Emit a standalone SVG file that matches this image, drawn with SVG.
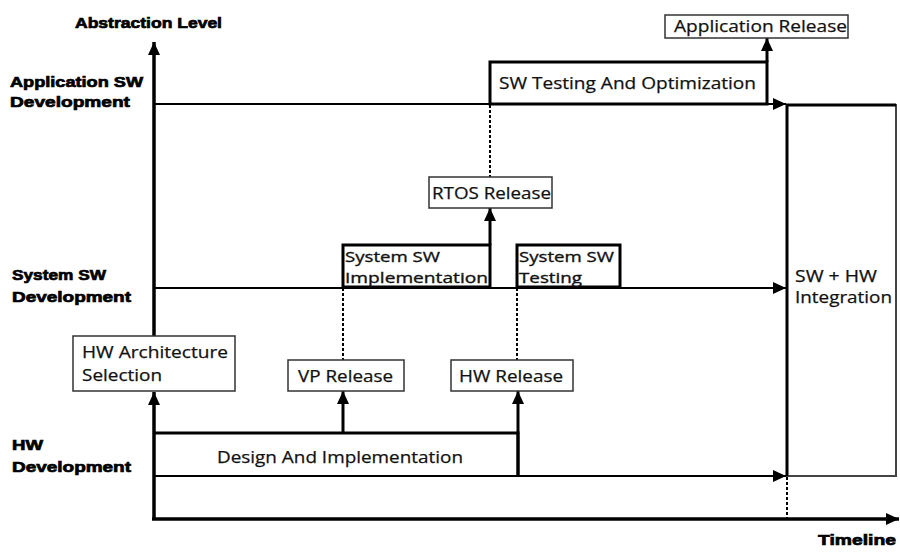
<svg xmlns="http://www.w3.org/2000/svg" width="900" height="552" viewBox="0 0 900 552">
<defs>
<style>
.lbl{font-family:"Liberation Sans",Arial,sans-serif;font-weight:bold;font-size:15px;fill:#000;stroke:#000;stroke-width:0.7}
.txt{font-family:"Open Sans","Liberation Sans",Arial,sans-serif;font-size:17px;fill:#111;stroke:#111;stroke-width:0.25}
.tight{font-size:15px;stroke-width:0.35}
.thin{fill:#fff;stroke:#333;stroke-width:1.5}
.thick{fill:#fff;stroke:#000;stroke-width:3}
.axis{stroke:#000;stroke-width:3.5;fill:none}
.lane{stroke:#000;stroke-width:1.8;fill:none}
.dash{stroke:#000;stroke-width:2;stroke-dasharray:3,2;fill:none}
.arr{stroke:#000;stroke-width:3;fill:none}
</style>
<marker id="ah" markerUnits="userSpaceOnUse" markerWidth="14" markerHeight="14" viewBox="0 0 14 14" refX="13" refY="7" orient="auto">
<path d="M0,1 L13,7 L0,13 z" fill="#000"/>
</marker>
</defs>
<rect width="900" height="552" fill="#fff"/>

<g id="labels">
<text class="lbl" x="75" y="28" textLength="147" lengthAdjust="spacingAndGlyphs">Abstraction Level</text>
<text class="lbl" x="10" y="87" textLength="133" lengthAdjust="spacingAndGlyphs">Application SW</text>
<text class="lbl" x="10" y="107" textLength="120" lengthAdjust="spacingAndGlyphs">Development</text>
<text class="lbl" x="12" y="280" textLength="94" lengthAdjust="spacingAndGlyphs">System SW</text>
<text class="lbl" x="12" y="302" textLength="119" lengthAdjust="spacingAndGlyphs">Development</text>
<text class="lbl" x="12" y="450" textLength="31" lengthAdjust="spacingAndGlyphs">HW</text>
<text class="lbl" x="12" y="472" textLength="119" lengthAdjust="spacingAndGlyphs">Development</text>
<text class="lbl" x="818" y="545" textLength="78" lengthAdjust="spacingAndGlyphs">Timeline</text>
</g>

<g id="connectors">
<line class="axis" x1="154" y1="519" x2="154" y2="392" marker-end="url(#ah)"/>
<line class="axis" x1="154" y1="336" x2="154" y2="42" marker-end="url(#ah)"/>
<line class="axis" x1="152" y1="519" x2="899" y2="519" marker-end="url(#ah)"/>
<line class="lane" x1="154" y1="104" x2="786" y2="104" marker-end="url(#ah)"/>
<line class="lane" x1="154" y1="288" x2="786" y2="288" marker-end="url(#ah)"/>
<line class="lane" x1="154" y1="476" x2="786" y2="476" marker-end="url(#ah)"/>
<line class="arr" x1="767" y1="62" x2="767" y2="38" marker-end="url(#ah)"/>
<line class="arr" x1="490" y1="245" x2="490" y2="208" marker-end="url(#ah)"/>
<line class="arr" x1="343" y1="433" x2="343" y2="391" marker-end="url(#ah)"/>
<line class="arr" x1="518" y1="476" x2="518" y2="391" marker-end="url(#ah)"/>
<line class="dash" x1="490" y1="105" x2="490" y2="177"/>
<line class="dash" x1="343" y1="288" x2="343" y2="360"/>
<line class="dash" x1="517" y1="288" x2="517" y2="360"/>
<line class="dash" x1="787" y1="477" x2="787" y2="518"/>
</g>

<g id="app-release">
<rect class="thin" x="665" y="15" width="183" height="23"/>
<text class="txt" x="674" y="32" textLength="173" lengthAdjust="spacingAndGlyphs">Application Release</text>
</g>

<g id="sw-testing">
<rect class="thick" x="490" y="62" width="277" height="42"/>
<text class="txt" x="499" y="89" textLength="257" lengthAdjust="spacingAndGlyphs">SW Testing And Optimization</text>
</g>

<g id="rtos-release">
<rect class="thin" x="429" y="177" width="123" height="31"/>
<text class="txt" x="432" y="199" textLength="119" lengthAdjust="spacingAndGlyphs">RTOS Release</text>
</g>

<g id="sys-sw-impl">
<rect class="thick" x="343" y="245" width="147" height="42"/>
<text class="txt tight" x="345" y="262" textLength="95" lengthAdjust="spacingAndGlyphs">System SW</text>
<text class="txt tight" x="345" y="283" textLength="143" lengthAdjust="spacingAndGlyphs">Implementation</text>
</g>

<g id="sys-sw-testing">
<rect class="thick" x="517" y="245" width="103" height="42"/>
<text class="txt tight" x="519" y="262" textLength="95" lengthAdjust="spacingAndGlyphs">System SW</text>
<text class="txt tight" x="519" y="283" textLength="63" lengthAdjust="spacingAndGlyphs">Testing</text>
</g>

<g id="hw-arch">
<rect class="thin" x="73" y="336" width="162" height="55"/>
<text class="txt" x="82" y="358" textLength="146" lengthAdjust="spacingAndGlyphs">HW Architecture</text>
<text class="txt" x="82" y="381" textLength="80" lengthAdjust="spacingAndGlyphs">Selection</text>
</g>

<g id="vp-release">
<rect class="thin" x="288" y="360" width="116" height="31"/>
<text class="txt" x="298" y="382" textLength="95" lengthAdjust="spacingAndGlyphs">VP Release</text>
</g>

<g id="hw-release">
<rect class="thin" x="451" y="360" width="122" height="31"/>
<text class="txt" x="459" y="382" textLength="104" lengthAdjust="spacingAndGlyphs">HW Release</text>
</g>

<g id="design-impl">
<path d="M154,433 H518 V476" fill="none" stroke="#000" stroke-width="3"/>
<text class="txt" x="217" y="463" textLength="246" lengthAdjust="spacingAndGlyphs">Design And Implementation</text>
</g>

<g id="integration">
<rect x="787" y="105" width="109" height="371" fill="#fff" stroke="#444" stroke-width="2"/>
<path d="M787,476 V105 H896" fill="none" stroke="#000" stroke-width="3"/>
<text class="txt" x="795" y="282" textLength="82" lengthAdjust="spacingAndGlyphs">SW + HW</text>
<text class="txt" x="795" y="303" textLength="97" lengthAdjust="spacingAndGlyphs">Integration</text>
</g>
</svg>
